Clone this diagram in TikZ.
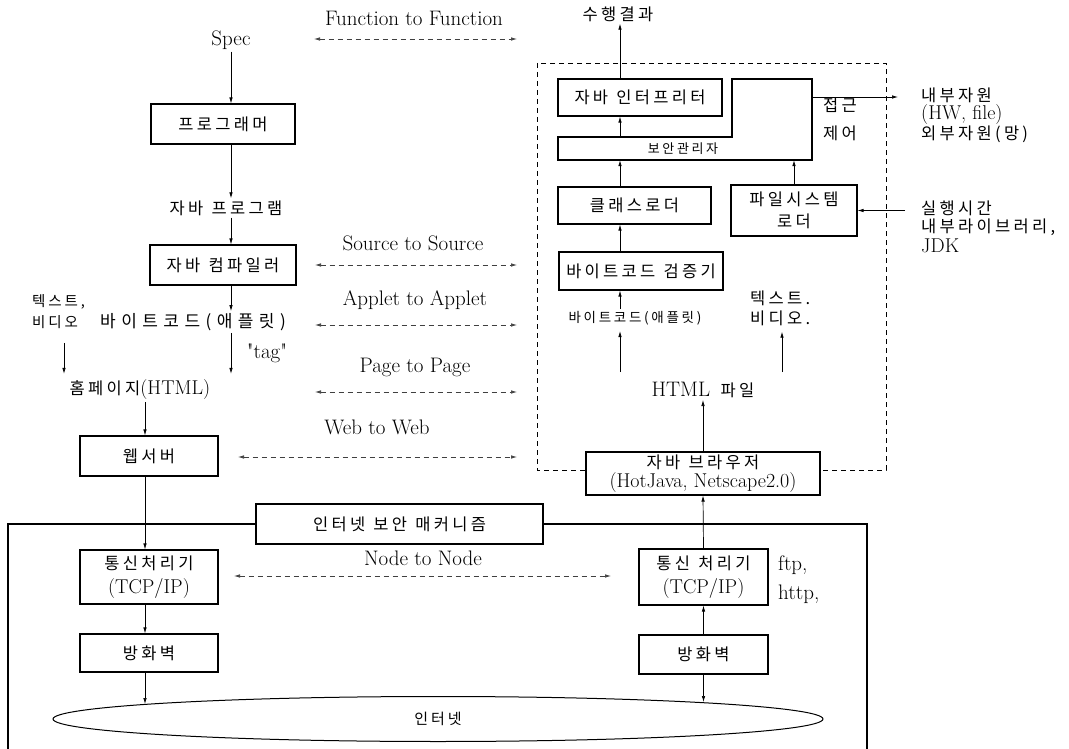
\documentclass[tikz,border=0pt]{standalone}
\usepackage{fontspec}
\newfontfamily\kr[LetterSpace=20]{Noto Sans CJK KR}
\newfontfamily\krw[LetterSpace=32]{Noto Sans CJK KR}
\newcommand\ks{\hspace{0.5em}}
\newcommand\qd{\textquotedbl}
\usetikzlibrary{arrows.meta,shapes.geometric}
\begin{document}
\begin{tikzpicture}[x=1pt,y=-1pt,
  box/.style={draw,line width=1.1pt,inner sep=0pt,align=center,fill=white},
  lat/.style={font=\fontsize{21}{24}\selectfont,inner sep=2pt},
  kor/.style={font=\fontsize{16.5}{20}\selectfont\kr,inner sep=2pt},
  ksm/.style={font=\fontsize{13}{16}\selectfont\kr,inner sep=2pt},
  arr/.style={-{Latex[length=6pt,width=3.5pt]},line width=0.7pt},
  darr/.style={{Latex[length=6pt,width=3.5pt]}-{Latex[length=6pt,width=3.5pt]},line width=0.7pt,dash pattern=on 5pt off 4pt,black!75},
]
\useasboundingbox (0,0) rectangle (1069,749);
% column coordinates
\coordinate (cL) at (231,0);
\coordinate (cV) at (64,0);
\coordinate (cW) at (145,0);
\coordinate (cR) at (620,0);
% dashed frame of the browser side
\draw[line width=0.9pt,dash pattern=on 5pt off 4pt] (537,63) rectangle (886,470);

% ---------- left column ----------
\node[lat] (spec) at (231,40) {Spec};
\node[box,kor,minimum width=144pt,minimum height=40pt] (prog) at (223,124) {프로그래머};
\node[kor] (jprog) at (226,208) {자바\ks 프로그램};
\node[box,kor,minimum width=146pt,minimum height=40pt] (comp) at (223,265) {자바\ks 컴파일러};
\node[kor,anchor=west,font=\fontsize{14.5}{18}\selectfont\kr] (txtL) at (30,302) {텍스트,};
\node[kor,anchor=west,font=\fontsize{14.5}{18}\selectfont\kr] (vidL) at (30,322) {비디오};
\node[kor,font=\fontsize{17}{20}\selectfont\krw] (bcL) at (193,322) {바이트코드(애플릿)};
\node[lat] (tag) at (267,353) {\qd tag\qd};
\node[kor] (home) at (140,390) {홈페이지{\rmfamily\fontsize{20}{20}\selectfont\addfontfeatures{LetterSpace=15}(HTML)}};
\node[box,kor,minimum width=138pt,minimum height=40pt] (web) at (149,456) {웹서버};

% ---------- right column ----------
\node[kor] (res) at (618,14) {수행결과};
\node[box,kor,minimum width=164pt,minimum height=37pt] (interp) at (640,97.5) {자바\ks 인터프리터};
\draw[line width=1.1pt] (558,137) -- (732,137) -- (732,79) -- (812,79) -- (812,160) -- (558,160) -- cycle;
\node[ksm,minimum width=254pt,minimum height=23pt,inner sep=0pt] (secbar) at (683,148.5) {보안관리자};
\node[kor] (acc1) at (840,105) {접근};
\node[kor] (acc2) at (840,133) {제어};
\coordinate (Lr) at (812,97);
\node[kor,anchor=west] (ext1) at (919,95) {내부자원};
\node[lat,anchor=west,font=\fontsize{20}{24}\selectfont] (ext2) at (919,115) {(HW, file)};
\node[kor,anchor=west] (ext3) at (919,134) {외부자원(망)};
\node[box,kor,minimum width=153pt,minimum height=37pt] (cls) at (634.5,205.5) {클래스로더};
\node[box,kor,minimum width=126pt,minimum height=51pt,font=\fontsize{16.5}{22}\selectfont\kr] (fsl) at (794,210.5) {파일시스템\\로더};
\node[kor,anchor=west] (rt1) at (919,208) {실행시간};
\node[kor,anchor=west] (rt2) at (919,227) {내부라이브러리,};
\node[lat,anchor=west,font=\fontsize{20}{24}\selectfont] (rt3) at (919,246) {JDK};
\node[box,kor,minimum width=164pt,minimum height=38pt] (ver) at (641,271) {바이트코드\ks 검증기};
\node[ksm,font=\fontsize{13.5}{16}\selectfont\kr] (bcR) at (635,318) {바이트코드(애플릿)};
\node[kor,anchor=west] (txtR) at (748,298) {텍스트.};
\node[kor,anchor=west] (vidR) at (748,318) {비디오.};
\node[lat] (html) at (703,390) {HTML\ks{\kr\fontsize{16.5}{20}\selectfont 파일}};
\node[box,minimum width=234pt,minimum height=43pt,font=\fontsize{20}{19}\selectfont] (brw) at (703,473.5) {{\kr\fontsize{16.5}{19}\selectfont 자바\ks 브라우저}\\(HotJava, Netscape2.0)};

% ---------- network part ----------
\node[box,kor,minimum width=287pt,minimum height=40pt] (sec) at (399.5,524) {인터넷\ks 보안\ks 매커니즘};
\draw[line width=1.8pt] (8,752) -- (8,524) -- (sec.west);
\draw[line width=1.8pt] (sec.east) -- (867,524) -- (867,752);
\node[box,minimum width=138pt,minimum height=54pt,font=\fontsize{20}{24}\selectfont] (tcpL) at (149,577) {{\kr\fontsize{16.5}{19}\selectfont 통신처리기}\\(TCP/IP)};
\node[box,minimum width=129pt,minimum height=56pt,font=\fontsize{20}{24}\selectfont] (tcpR) at (703.5,577) {{\kr\fontsize{16.5}{19}\selectfont 통신\ks 처리기}\\(TCP/IP)};
\node[lat,anchor=west] (ftp) at (776,565) {ftp,};
\node[lat,anchor=west] (http) at (776,594) {http,};
\node[box,kor,minimum width=138pt,minimum height=38pt] (fwL) at (149,653) {방화벽};
\node[box,kor,minimum width=129pt,minimum height=39pt] (fwR) at (703.5,654.5) {방화벽};
\node[draw,ellipse,line width=1pt,minimum width=770pt,minimum height=45pt,inner sep=0pt,font=\fontsize{15}{18}\selectfont\kr] (net) at (438,719) {인터넷};

% ---------- middle labels and dashed double arrows ----------
\node[lat] (f2f) at (414,18) {Function to Function};
\node[lat] (s2s) at (413,243) {Source to Source};
\node[lat] (a2a) at (415,300) {Applet to Applet};
\node[lat] (p2p) at (415,367) {Page to Page};
\node[lat] (w2w) at (377,427) {Web to Web};
\node[lat] (n2n) at (423,558) {Node to Node};
\coordinate (fa) at (314,39);  \coordinate (fb) at (517,39);
\coordinate (sa) at (315,265); \coordinate (sb) at (517,265);
\coordinate (aa) at (315,325); \coordinate (ab) at (517,325);
\coordinate (pa) at (315,392); \coordinate (pb) at (517,392);
\coordinate (wa) at (238,457); \coordinate (wb) at (517,457);
\coordinate (na) at (234,576); \coordinate (nb) at (611,576);
\draw[darr] (fa) -- (fb);
\draw[darr] (sa) -- (sb);
\draw[darr] (aa) -- (ab);
\draw[darr] (pa) -- (pb);
\draw[darr] (wa) -- (wb);
\draw[darr] (na) -- (nb);

% ---------- vertical arrows, left ----------
\draw[arr] (spec.south -| cL) -- (prog.north -| cL);
\draw[arr] (prog.south -| cL) -- (jprog.north -| cL);
\draw[arr] (jprog.south -| cL) -- (comp.north -| cL);
\draw[arr] (comp.south -| cL) -- (bcL.north -| cL);
\draw[arr,shorten >=4pt] (bcL.south -| cL) -- (home.north -| cL);
\draw[arr,shorten <=12pt,shorten >=4pt] (vidL.south -| cV) -- (home.north -| cV);
\draw[arr] (home.south -| cW) -- (web.north -| cW);
\draw[arr] (web.south -| cW) -- (tcpL.north -| cW);
\draw[arr] (tcpL.south -| cW) -- (fwL.north -| cW);
\draw[arr,shorten >=-8pt] (fwL.south -| cW) -- (net.north -| cW);

% ---------- vertical arrows, right ----------
\draw[arr] (interp.north -| cR) -- (res.south -| cR);
\draw[arr] (secbar.north -| cR) -- (interp.south -| cR);
\draw[arr] (cls.north -| cR) -- (secbar.south -| cR);
\draw[arr] (fsl.north) -- (fsl.north |- secbar.south);
\draw[arr] (ver.north -| cR) -- (cls.south -| cR);
\draw[arr] (bcR.north -| cR) -- (ver.south -| cR);
\coordinate (t1) at (620,372);
\coordinate (t2) at (782,372);
\draw[arr,shorten >=4pt] (t1) -- (bcR.south -| t1);
\draw[arr,shorten >=4pt] (t2) -- (vidR.south -| t2);
\draw[arr] (brw.north) -- (html.south);
\draw[arr] (tcpR.north) -- (brw.south);
\draw[arr] (fwR.north) -- (tcpR.south);
\draw[arr,shorten >=-6pt] (fwR.south) -- (fwR.south |- net.north);
\draw[arr,shorten >=21pt] (Lr) -- (Lr -| ext1.west);
\draw[arr,shorten <=14pt] (fsl.east -| rt1.west) -- (fsl.east);
\end{tikzpicture}
\end{document}
